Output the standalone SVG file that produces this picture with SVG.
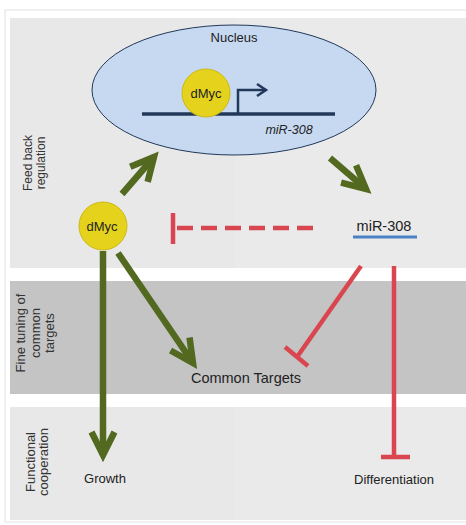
<svg xmlns="http://www.w3.org/2000/svg" width="466" height="525" viewBox="0 0 466 525">
<style>
text{font-family:"Liberation Sans",Arial,sans-serif;fill:#222}
.g{stroke:#52691f;stroke-width:6.5;fill:none}
.r{stroke:#d9464f;stroke-width:4.5;fill:none}
.yc{fill:#e5d21c;stroke:#cdb914;stroke-width:1}
.lab{fill:#333}
</style>
<defs>
<marker id="ah" markerUnits="userSpaceOnUse" orient="auto" markerWidth="40" markerHeight="40" refX="0" refY="0" viewBox="-30 -20 40 40" overflow="visible">
<path d="M-23,-11.5 L0,0 L-23,11.5" fill="none" stroke="#52691f" stroke-width="6.5"/>
</marker>
<marker id="nav" markerUnits="userSpaceOnUse" orient="auto" overflow="visible">
<path d="M-9,-6 L0,0 L-9,6" fill="none" stroke="#22385a" stroke-width="2.5"/>
</marker>
</defs>
<rect x="0" y="0" width="466" height="525" fill="#fff"/>
<rect x="5" y="10" width="470" height="512" fill="#fff" stroke="#e2e2e2"/>
<g id="bands">
<rect x="10" y="18" width="456" height="250" fill="#e8e8e8"/>
<rect x="235" y="18" width="231" height="250" fill="#eaeaea"/>
<rect x="10" y="281" width="456" height="113" fill="#c4c4c4"/>
<rect x="10" y="407" width="456" height="113" fill="#e8e8e8"/>
<rect x="235" y="407" width="231" height="113" fill="#eaeaea"/>
</g>
<g id="side-labels">
<text class="lab" font-size="12" transform="translate(32,163) rotate(-90)" text-anchor="middle">Feed back<tspan x="0" dy="12.5">regulation</tspan></text>
<text class="lab" font-size="13" transform="translate(25,333) rotate(-90)" text-anchor="middle">Fine tuning of<tspan x="0" dy="14.5">common</tspan><tspan x="0" dy="14">targets</tspan></text>
<text class="lab" font-size="13" transform="translate(35,462) rotate(-90)" text-anchor="middle">Functional<tspan x="0" dy="13">cooperation</tspan></text>
</g>
<g id="nucleus">
<ellipse cx="234" cy="90" rx="142" ry="65" fill="#c6d9f0" stroke="#22385a" stroke-width="1"/>
<text x="234" y="42" font-size="13" text-anchor="middle">Nucleus</text>
<line x1="142" y1="114" x2="335" y2="114" stroke="#22385a" stroke-width="3.5"/>
<path d="M238,114 V90 H266" fill="none" stroke="#22385a" stroke-width="2.5" marker-end="url(#nav)"/>
<text x="289" y="134" font-size="12.5" font-style="italic" text-anchor="middle">miR-308</text>
</g>
<g id="dmyc-nuc">
<circle class="yc" cx="206" cy="93" r="24"/>
<text x="206" y="98" font-size="13" text-anchor="middle">dMyc</text>
</g>
<g id="dmyc">
<circle class="yc" cx="103" cy="226" r="24"/>
<text x="102" y="231" font-size="13" text-anchor="middle">dMyc</text>
</g>
<g id="mir308">
<text x="384" y="231" font-size="14.5" text-anchor="middle">miR-308</text>
<line x1="353" y1="237" x2="417" y2="237" stroke="#4a80c4" stroke-width="3"/>
</g>
<g id="common-targets"><text x="246" y="383" font-size="14.5" text-anchor="middle">Common Targets</text></g>
<g id="growth"><text x="105" y="483" font-size="13" text-anchor="middle">Growth</text></g>
<g id="differentiation"><text x="394" y="484" font-size="13" text-anchor="middle">Differentiation</text></g>
<g id="connectors">
<line class="g" x1="122" y1="194" x2="154" y2="157" marker-end="url(#ah)"/>
<line class="g" x1="330" y1="158" x2="366" y2="189" marker-end="url(#ah)"/>
<line class="g" x1="103" y1="251" x2="103" y2="455" marker-end="url(#ah)"/>
<line class="g" x1="118" y1="253" x2="193" y2="363" marker-end="url(#ah)"/>
<line class="r" x1="313" y1="228" x2="175" y2="228" stroke-dasharray="16,8"/>
<line class="r" x1="173" y1="213" x2="173" y2="244"/>
<line class="r" x1="361" y1="266" x2="297" y2="357"/>
<line class="r" x1="285" y1="347" x2="308" y2="366"/>
<line class="r" x1="394" y1="266" x2="394" y2="457"/>
<line class="r" x1="381" y1="457" x2="410" y2="457"/>
</g>
</svg>
